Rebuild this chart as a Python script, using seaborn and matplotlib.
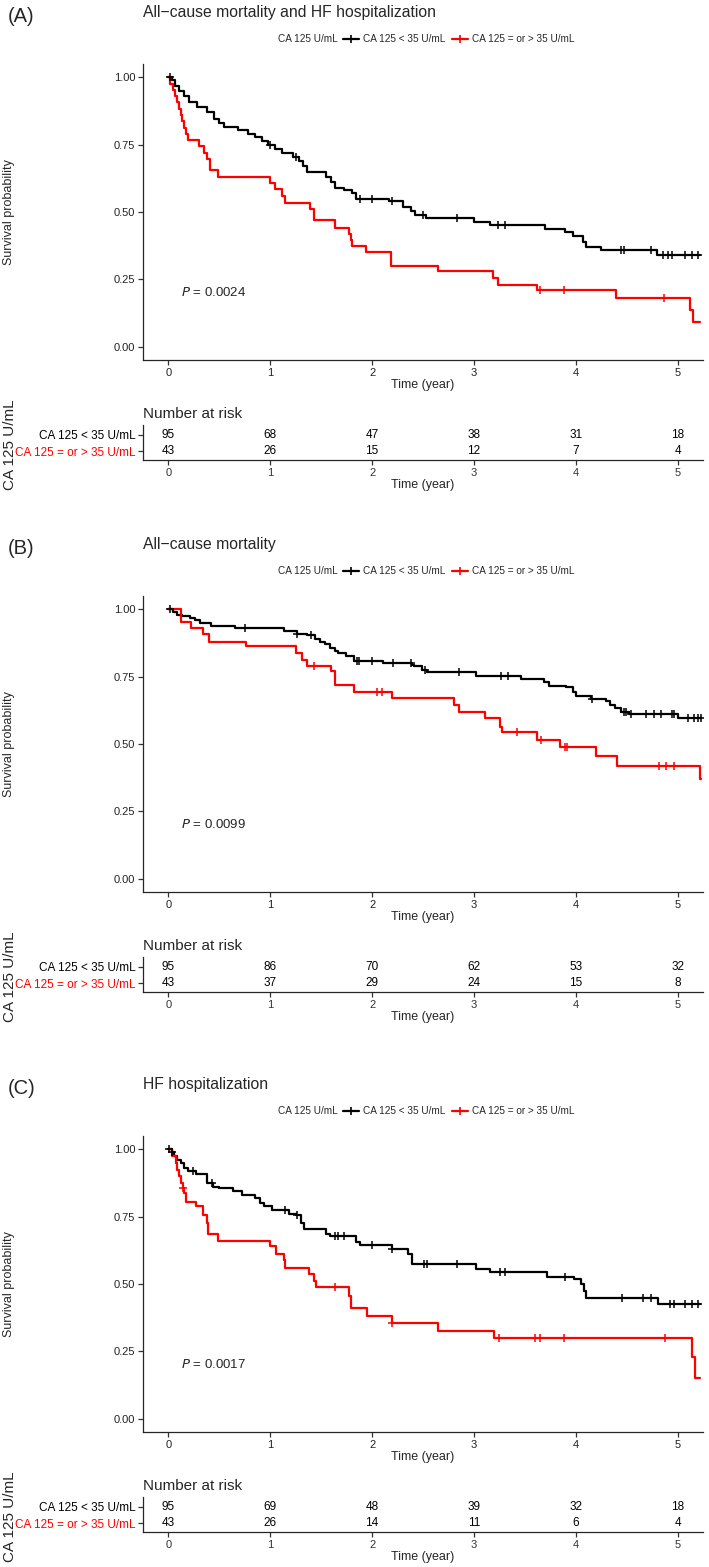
import numpy as np
import pandas as pd
import seaborn as sns
import matplotlib
matplotlib.use("Agg")
import matplotlib.pyplot as plt
from matplotlib.lines import Line2D

sns.set_theme(style="ticks")
plt.rcParams['font.family'] = ['Liberation Sans', 'DejaVu Sans']

W, H = 709, 1567

groups = ["CA 125 < 35 U/mL", "CA 125 = or > 35 U/mL"]
colors = ["black", "red"]
risk_times = [0, 1, 2, 3, 4, 5]
panel_labels = ["(A)", "(B)", "(C)"]
titles = ["All\u2212cause mortality and HF hospitalization", "All\u2212cause mortality", "HF hospitalization"]
pvals = ["0.0024", "0.0099", "0.0017"]

# (A) all-cause mortality and HF hospitalization
a_low_t = [0, 0.03, 0.06, 0.1, 0.15, 0.2, 0.28, 0.38, 0.45, 0.5, 0.55, 0.68, 0.78, 0.85, 0.92, 0.98,
           1.05, 1.12, 1.22, 1.28, 1.32, 1.36, 1.55, 1.6, 1.64, 1.72, 1.8, 1.84, 2.17, 2.3, 2.38, 2.42,
           2.53, 3.0, 3.16, 3.7, 3.89, 3.97, 4.07, 4.1, 4.25, 4.8, 5.22]
a_low_s = [1.0, 0.99, 0.97, 0.95, 0.93, 0.91, 0.89, 0.87, 0.845, 0.83, 0.815, 0.805, 0.79, 0.78, 0.765, 0.75,
           0.735, 0.72, 0.705, 0.69, 0.67, 0.65, 0.63, 0.61, 0.59, 0.58, 0.57, 0.55, 0.54, 0.52, 0.505, 0.49,
           0.476, 0.464, 0.45, 0.436, 0.424, 0.41, 0.39, 0.37, 0.357, 0.342, 0.342]
a_low_cens = [0.02, 1.0, 1.25, 1.88, 2.0, 2.2, 2.5, 2.83, 3.24, 3.31, 4.44, 4.47, 4.74, 4.86, 4.91, 4.95, 5.07, 5.14, 5.2]
a_high_t = [0, 0.02, 0.04, 0.06, 0.08, 0.1, 0.12, 0.13, 0.15, 0.17, 0.19, 0.3, 0.35, 0.38, 0.41, 0.49,
            1.0, 1.05, 1.12, 1.14, 1.39, 1.43, 1.64, 1.77, 1.79, 1.8, 1.94, 2.19, 2.65, 3.19, 3.24, 3.62,
            4.4, 5.12, 5.15, 5.22]
a_high_s = [1.0, 0.976, 0.953, 0.93, 0.907, 0.884, 0.86, 0.837, 0.814, 0.79, 0.767, 0.744, 0.72, 0.698, 0.655, 0.63,
            0.607, 0.584, 0.56, 0.535, 0.51, 0.47, 0.44, 0.42, 0.397, 0.374, 0.35, 0.30, 0.28, 0.255, 0.23, 0.21,
            0.18, 0.134, 0.09, 0.09]
a_high_cens = [3.65, 3.88, 4.87]
a_risk_low = [95, 68, 47, 38, 31, 18]
a_risk_high = [43, 26, 15, 12, 7, 4]

# (B) all-cause mortality
b_low_t = [0, 0.04, 0.08, 0.13, 0.21, 0.26, 0.31, 0.42, 0.65, 1.13, 1.26, 1.36, 1.44, 1.49, 1.54, 1.59,
           1.64, 1.67, 1.74, 1.82, 2.11, 2.39, 2.41, 2.49, 2.54, 3.02, 3.46, 3.69, 3.74, 3.9, 3.97, 4.0,
           4.15, 4.3, 4.34, 4.39, 4.44, 4.52, 5.0, 5.23]
b_low_s = [1.0, 0.99, 0.98, 0.975, 0.97, 0.96, 0.95, 0.94, 0.93, 0.92, 0.91, 0.905, 0.89, 0.88, 0.87, 0.857,
           0.845, 0.84, 0.826, 0.81, 0.80, 0.795, 0.79, 0.776, 0.767, 0.754, 0.743, 0.73, 0.716, 0.71, 0.695, 0.68,
           0.668, 0.658, 0.645, 0.633, 0.62, 0.61, 0.596, 0.596]
b_low_cens = [0.02, 0.75, 1.26, 1.4, 1.85, 1.87, 2.0, 2.21, 2.38, 2.52, 2.85, 3.27, 3.33, 4.16, 4.47, 4.49,
              4.54, 4.69, 4.77, 4.84, 4.95, 4.97, 5.1, 5.16, 5.2, 5.23]
b_high_t = [0, 0.12, 0.22, 0.34, 0.4, 0.76, 1.25, 1.31, 1.36, 1.6, 1.64, 1.82, 2.2, 2.8, 2.85, 3.11,
            3.26, 3.28, 3.62, 3.85, 4.2, 4.41, 5.225, 5.23]
b_high_s = [1.0, 0.953, 0.93, 0.91, 0.88, 0.863, 0.84, 0.813, 0.79, 0.77, 0.72, 0.695, 0.67, 0.645, 0.618, 0.596,
            0.565, 0.543, 0.515, 0.49, 0.455, 0.42, 0.37, 0.37]
b_high_cens = [1.43, 2.05, 2.1, 3.42, 3.66, 3.89, 3.91, 4.82, 4.89, 4.97]
b_risk_low = [95, 86, 70, 62, 53, 32]
b_risk_high = [43, 37, 29, 24, 15, 8]

# (C) HF hospitalization
c_low_t = [0, 0.03, 0.05, 0.08, 0.12, 0.15, 0.19, 0.27, 0.38, 0.44, 0.5, 0.63, 0.72, 0.85, 0.9, 0.94,
           1.02, 1.18, 1.25, 1.3, 1.33, 1.55, 1.59, 1.84, 1.88, 2.2, 2.35, 2.39, 3.02, 3.16, 3.72, 3.98,
           4.05, 4.08, 4.1, 4.81, 5.22]
c_low_s = [1.0, 0.99, 0.975, 0.96, 0.95, 0.93, 0.92, 0.91, 0.875, 0.86, 0.856, 0.844, 0.83, 0.82, 0.80, 0.79,
           0.775, 0.76, 0.756, 0.725, 0.706, 0.6875, 0.68, 0.656, 0.645, 0.63, 0.61, 0.575, 0.556, 0.544, 0.5275, 0.52,
           0.50, 0.475, 0.4475, 0.4275, 0.4275]
c_low_cens = [0.01, 0.03, 0.24, 0.43, 1.14, 1.26, 1.64, 1.67, 1.72, 2.0, 2.2, 2.51, 2.54, 2.83, 3.26, 3.31,
              3.89, 4.45, 4.66, 4.74, 4.93, 4.97, 5.07, 5.14, 5.2]
c_high_t = [0, 0.03, 0.07, 0.08, 0.1, 0.12, 0.14, 0.15, 0.17, 0.27, 0.34, 0.375, 0.39, 0.49, 1.0, 1.06,
            1.13, 1.14, 1.38, 1.43, 1.45, 1.77, 1.79, 1.95, 2.2, 2.65, 3.2, 5.14, 5.17, 5.22]
c_high_s = [1.0, 0.975, 0.95, 0.925, 0.90, 0.875, 0.856, 0.84, 0.806, 0.79, 0.756, 0.725, 0.6875, 0.66, 0.64, 0.61,
            0.5875, 0.56, 0.5375, 0.5125, 0.4875, 0.456, 0.41, 0.38, 0.355, 0.325, 0.30, 0.23, 0.15, 0.15]
c_high_cens = [0.14, 1.64, 2.2, 3.25, 3.6, 3.65, 3.88, 4.88]
c_risk_low = [95, 69, 48, 39, 32, 18]
c_risk_high = [43, 26, 14, 11, 6, 4]

curves = [
    [(a_low_t, a_low_s, a_low_cens), (a_high_t, a_high_s, a_high_cens)],
    [(b_low_t, b_low_s, b_low_cens), (b_high_t, b_high_s, b_high_cens)],
    [(c_low_t, c_low_s, c_low_cens), (c_high_t, c_high_s, c_high_cens)],
]
risks = [(a_risk_low, a_risk_high), (b_risk_low, b_risk_high), (c_risk_low, c_risk_high)]
offsets = [0, 532, 1072]


def rect(left, top, right, bottom):
    return [left / W, 1 - bottom / H, (right - left) / W, (bottom - top) / H]


def surv_at(t, s, x):
    idx = np.searchsorted(t, x, side='right') - 1
    return np.asarray(s)[idx]


fig = plt.figure(figsize=(W / 100, H / 100), dpi=100)

for i, off in enumerate(offsets):
    # header: panel letter, title, legend
    fig.text(8 / W, 1 - (off + 16) / H, panel_labels[i], fontsize=14.5, va='center', ha='left')
    fig.text(143 / W, 1 - (off + 12) / H, titles[i], fontsize=11.3, va='center', ha='left')
    fig.text(278 / W, 1 - (off + 39) / H, "CA 125 U/mL", fontsize=7.2, va='center', ha='left')
    handles = [Line2D([0], [0], color=c, lw=1.6, marker='+', markersize=6, markeredgewidth=1.2) for c in colors]
    fig.legend(handles, groups, loc='center left', bbox_to_anchor=(343 / W, 1 - (off + 39) / H),
               ncol=2, frameon=False, fontsize=7.2, handlelength=1.6, handletextpad=0.4,
               columnspacing=0.7, borderpad=0, borderaxespad=0)

    # survival curves
    ax = fig.add_axes(rect(143, off + 64, 703, off + 360))
    for (t, s, cens), c, g in zip(curves[i], colors, groups):
        df = pd.DataFrame({"time": t, "surv": s})
        sns.lineplot(data=df, x="time", y="surv", drawstyle='steps-post', color=c, lw=1.6,
                     estimator=None, sort=False, ax=ax)
        cdf = pd.DataFrame({"time": cens, "surv": surv_at(t, s, cens)})
        sns.scatterplot(data=cdf, x="time", y="surv", marker='+', s=28, color=c, linewidth=1.1, ax=ax, zorder=3)
    ax.set_xlim(-0.25, 5.25)
    ax.set_ylim(-0.05, 1.05)
    ax.set_xticks(risk_times)
    ax.set_yticks([0, 0.25, 0.5, 0.75, 1.0])
    ax.set_yticklabels(["0.00", "0.25", "0.50", "0.75", "1.00"])
    ax.tick_params(labelsize=8, length=3.5, width=0.9, pad=2, colors='#333333', labelcolor='#222222')
    ax.set_xlabel("Time (year)", fontsize=9, labelpad=1)
    ax.set_ylabel("Survival probability", fontsize=9)
    ax.yaxis.set_label_coords((15 - 143) / 560, 0.5)
    sns.despine(ax=ax)
    for sp in ax.spines.values():
        sp.set_linewidth(0.9)
    ax.text(0.12, 0.2, "$P$ = " + pvals[i], fontsize=9.5, va='center', ha='left')

    # risk table
    tx = fig.add_axes(rect(143, off + 425, 703, off + 460))
    low, high = risks[i]
    for row, vals in [(2, low), (1, high)]:
        for tt, v in zip(risk_times, vals):
            tx.text(tt, row, str(v), ha='center', va='center', fontsize=8.5, color='black')
    tx.set_xlim(-0.25, 5.25)
    tx.set_ylim(0.44, 2.62)
    tx.set_xticks(risk_times)
    tx.set_yticks([2, 1])
    tx.set_yticklabels(groups)
    tx.tick_params(axis='x', labelsize=8, length=3.5, width=0.9, pad=2, colors='#333333')
    tx.tick_params(axis='y', labelsize=8.5, length=3.5, width=0.9, pad=2, colors='#333333')
    for lab, c in zip(tx.get_yticklabels(), colors):
        lab.set_color(c)
    tx.set_xlabel("Time (year)", fontsize=9, labelpad=1)
    tx.set_ylabel("CA 125 U/mL", fontsize=11)
    tx.yaxis.set_label_coords((17 - 143) / 560, 0.45)
    tx.set_title("Number at risk", loc='left', fontsize=11, pad=5)
    sns.despine(ax=tx)
    for sp in tx.spines.values():
        sp.set_linewidth(0.9)

fig.savefig("out.png", dpi=100)
